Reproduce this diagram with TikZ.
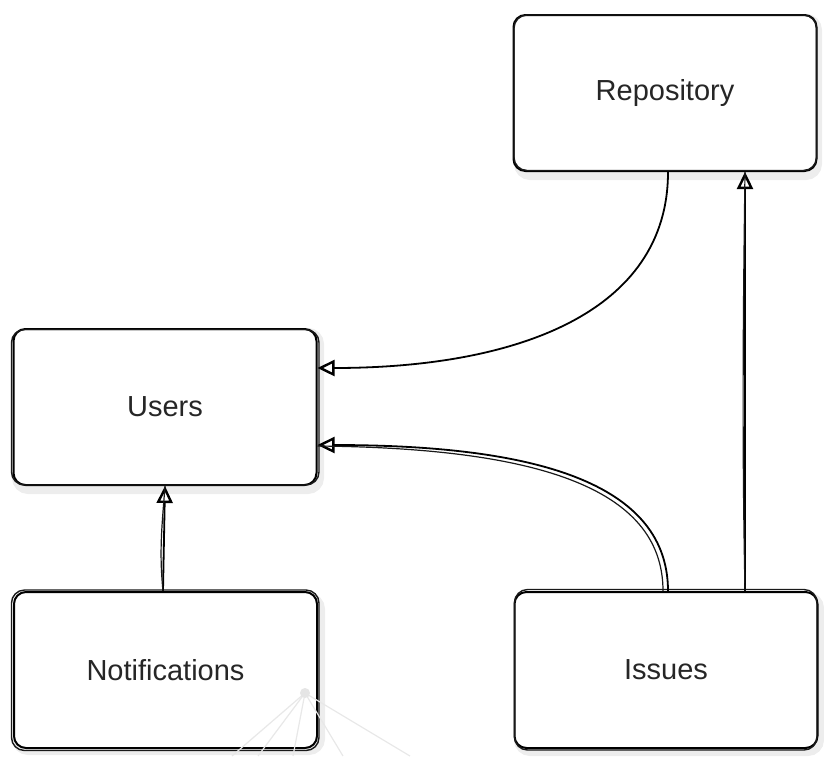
\documentclass[tikz,border=0pt]{standalone}
\usepackage{fontspec}
\setmainfont{Liberation Sans}
\usetikzlibrary{arrows.meta}
\tikzset{
  box/.style={minimum width=303pt, minimum height=156pt, inner sep=0pt,
    rounded corners=12pt, fill=white, draw=black, line width=2pt,
    font=\fontsize{29}{34}\selectfont, text=black!85},
  shadowline/.style={black!7, line width=8pt, rounded corners=12pt},
  sketch/.style={black!90, line width=1.4pt, rounded corners=13pt},
  conn/.style={black, line width=1.8pt, -{Triangle[open,length=17pt,width=16pt,line width=2.4pt]}},
  connb/.style={black!90, line width=1.2pt},
  faint/.style={black!9, line width=1.2pt}
}
\begin{document}
\begin{tikzpicture}[x=1pt,y=-1pt]
\useasboundingbox (0,0) rectangle (824,756);
% soft shadows
\foreach \a/\b/\c/\d in {515/14/815/172, 13/328/317/486, 515/592/817/748, 13/593/318/747}{
  \draw[shadowline] (\a+3,\b+4) rectangle (\c+3,\d+4);
}
% boxes
\node[box] (rep) at (665,93) {Repository};
\node[box] (users) at (165,407) {Users};
\node[box] (issues) at (666,670) {Issues};
\node[box] (notif) at (165.5,670) {Notifications};
% second sketch strokes
\draw[sketch] ([shift={(1.5pt,-1pt)}]rep.north west) rectangle ([shift={(-1pt,1.5pt)}]rep.south east);
\draw[sketch] ([shift={(-1pt,-1.5pt)}]users.north west) rectangle ([shift={(1.5pt,1pt)}]users.south east);
\draw[sketch] ([shift={(1pt,1.5pt)}]issues.north west) rectangle ([shift={(-1.5pt,-1pt)}]issues.south east);
\draw[sketch] ([shift={(-1.5pt,1pt)}]notif.north west) rectangle ([shift={(1pt,-1.5pt)}]notif.south east);
% faint rays
\coordinate (ray) at (305,693);
\foreach \e in {232,258,293,343,410}{
  \draw[faint] (ray) -- (\e,756);
}
\fill[black!10] (ray) circle (5);
% connectors
\draw[conn] ([xshift=3pt]rep.south) .. controls +(0,140) and +(200,0) .. ([yshift=39pt]users.east);
\draw[conn] ([xshift=2pt]issues.north) .. controls +(0,-115) and +(200,0) .. ([yshift=-38pt]users.east);
\draw[connb] ([xshift=-3pt]issues.north) .. controls +(0,-105) and +(215,2) .. ([yshift=-39pt]users.east);
\draw[conn] ([xshift=79pt]issues.north) -- ([xshift=80pt]rep.south);
\draw[connb] ([xshift=79pt]issues.north) .. controls +(-3,-150) and +(-2,150) .. ([xshift=80pt]rep.south);
\draw[conn] ([xshift=-2.5pt]notif.north) -- (users.south);
\draw[connb] ([xshift=-2.5pt]notif.north) .. controls +(-4,-40) and +(-3,40) .. (users.south);
\end{tikzpicture}
\end{document}
